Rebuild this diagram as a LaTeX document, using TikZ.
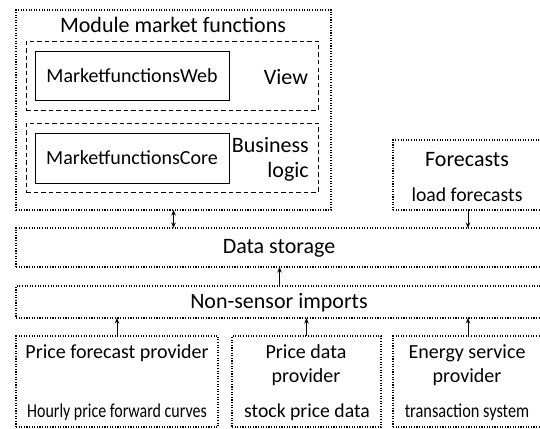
\documentclass[tikz,border=0pt]{standalone}
\usepackage{fontspec}
\setmainfont{Carlito}
\usetikzlibrary{arrows.meta}
\tikzset{
  box/.style={rectangle, inner sep=0pt, outer sep=0pt, anchor=north west},
  dotbox/.style={box, draw, line width=1.3pt, dash pattern=on 1.1pt off 1.5pt},
  dashbox/.style={box, draw, line width=0.8pt, dash pattern=on 4.5pt off 3pt},
  solidbox/.style={box, draw, line width=0.9pt},
  large/.style={font=\fontsize{22}{25}\selectfont, inner sep=0pt},
  big/.style={font=\fontsize{20}{24}\selectfont, inner sep=0pt},
  small/.style={font=\fontsize{19.7}{22}\selectfont, inner sep=0pt},
  conn/.style={line width=0.8pt, -{Stealth[length=5.5pt,width=4.5pt]}},
  dconn/.style={line width=0.8pt, {Stealth[length=5.5pt,width=4.5pt]}-{Stealth[length=5.5pt,width=4.5pt]}}
}
\begin{document}
\begin{tikzpicture}[x=1pt,y=-1pt]
\useasboundingbox (0,0) rectangle (540,428);
% boxes
\node[dotbox, minimum width=315pt, minimum height=200pt] (module) at (16,10) {};
\node[dashbox, minimum width=292pt, minimum height=69pt] (view) at (26,41) {};
\node[solidbox, minimum width=194pt, minimum height=49pt] (web) at (35,51) {};
\node[dashbox, minimum width=292pt, minimum height=69pt] (biz) at (26,123) {};
\node[solidbox, minimum width=194pt, minimum height=50pt] (core) at (35,133) {};
\node[dotbox, minimum width=150pt, minimum height=70pt] (fc) at (393,140) {};
\node[dotbox, minimum width=527pt, minimum height=39pt] (storage) at (16,228) {};
\node[dotbox, minimum width=527pt, minimum height=32pt] (imports) at (16,286) {};
\node[dotbox, minimum width=202pt, minimum height=91pt] (pfp) at (16,336) {};
\node[dotbox, minimum width=149pt, minimum height=91pt] (pdp) at (232,336) {};
\node[dotbox, minimum width=150pt, minimum height=91pt] (esp) at (393,336) {};
% texts
\node[large] (tmodule) at (173,25) {Module market functions};
\node[big] (tweb) at (web.center) {MarketfunctionsWeb};
\node[big] (tcore) at (core.center) {MarketfunctionsCore};
\node[large] (tview) at (286,77) {View};
\node[large, align=right, anchor=east] (tbiz) at (309,159) {Business\\logic};
\node[large] (tfc) at (467,160) {Forecasts};
\node[small] (tload) at (467,195) {load forecasts};
\node[large] (tstorage) at (279,248) {Data storage};
\node[large] (timports) at (279,303) {Non-sensor imports};
\node[big] (tpfp) at (117,353) {Price forecast provider};
\node[small] (tpfp2) at (117,412) {\scalebox{0.81}[1]{Hourly price forward curves}};
\node[big, align=center] (tpdp) at (306,365) {Price data\\provider};
\node[small] (tpdp2) at (307,412) {stock price data};
\node[big, align=center] (tesp) at (467,365) {Energy service\\provider};
\node[small] (tesp2) at (467,412) {\scalebox{0.83}[1]{transaction system}};
% connectors
\draw[dconn] (module.south) -- (module.south |- storage.north);
\draw[conn] (fc.south) -- (fc.south |- storage.north);
\draw[conn] (imports.north) -- (imports.north |- storage.south);
\draw[conn] (pfp.north) -- (pfp.north |- imports.south);
\draw[conn] (pdp.north) -- (pdp.north |- imports.south);
\draw[conn] (esp.north) -- (esp.north |- imports.south);
\end{tikzpicture}
\end{document}
